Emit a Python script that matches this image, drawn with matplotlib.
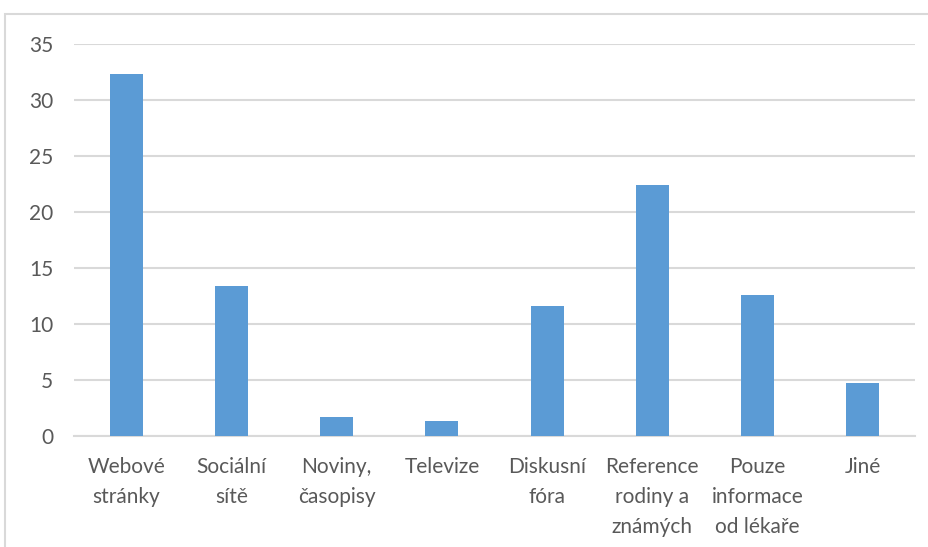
import matplotlib.pyplot as plt
from matplotlib.patches import Rectangle
import numpy as np

# Where people look for information (percent of respondents)
categories = ["Webové\nstránky", "Sociální\nsítě", "Noviny,\nčasopisy", "Televize",
              "Diskusní\nfóra", "Reference\nrodiny a\nznámých", "Pouze\ninformace\nod lékaře", "Jiné"]
values = [32.3, 13.4, 1.7, 1.3, 11.6, 22.4, 12.6, 4.7]
y_ticks = [0, 5, 10, 15, 20, 25, 30, 35]

bar_color = "#5b9bd5"
grid_color = "#d9d9d9"
text_color = "#595959"

plt.rcParams['font.family'] = ['Lato', 'DejaVu Sans']

fig = plt.figure(figsize=(9.29, 5.47), dpi=100)
ax = fig.add_axes([74 / 929, 1 - 436 / 547, (915 - 74) / 929, (436 - 44) / 547])

x = np.arange(len(categories))
ax.bar(x, values, width=0.313, color=bar_color, zorder=3)

ax.set_xlim(-0.5, len(categories) - 0.5)
ax.set_ylim(0, 35)
ax.set_yticks(y_ticks)
ax.set_xticks(x)
ax.set_xticklabels(categories, linespacing=1.62)

ax.yaxis.grid(True, color=grid_color, linewidth=1.5, zorder=0)
for side in ["left", "right", "top"]:
    ax.spines[side].set_visible(False)
ax.spines["bottom"].set_color(grid_color)
ax.spines["bottom"].set_linewidth(1.5)

ax.tick_params(axis="both", length=0, labelsize=15, colors=text_color)
ax.tick_params(axis="y", pad=15)
ax.tick_params(axis="x", pad=15)

# chart frame, cut off at the right and bottom
fig.patches.append(Rectangle((5 / 929, -0.1), 1.2, 1.1 - 14 / 547,
                             transform=fig.transFigure, fill=False,
                             edgecolor=grid_color, linewidth=1.5))

fig.savefig("out.png", dpi=100)
